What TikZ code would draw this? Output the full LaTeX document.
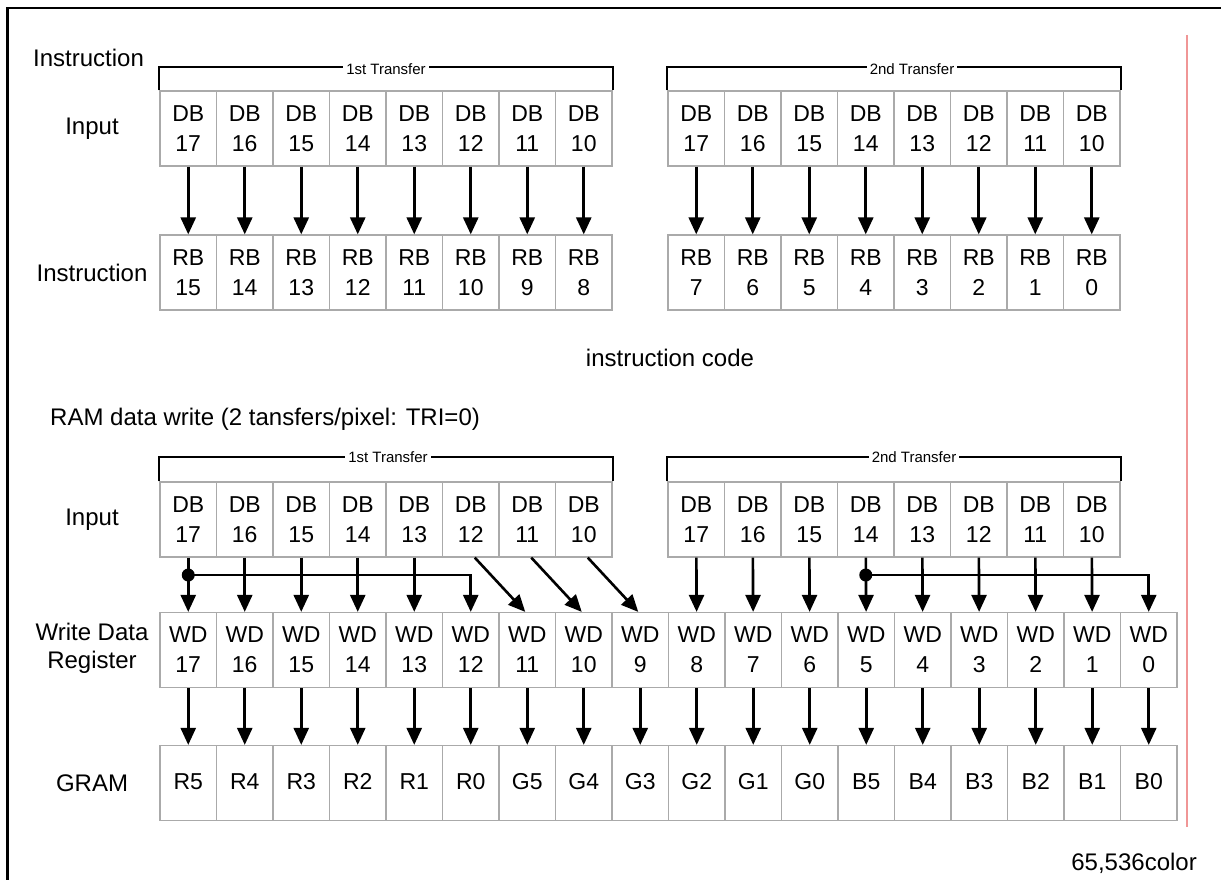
\documentclass[tikz,border=0pt]{standalone}
\usepackage{fontspec}
\setmainfont{Liberation Sans}
\usetikzlibrary{arrows.meta}

\definecolor{cellgray}{RGB}{170,170,170}
\definecolor{edgered}{RGB}{240,150,150}

\tikzset{
  cell/.style={draw=cellgray,line width=1.2pt,minimum width=56.5pt,minimum height=75pt,
    inner sep=0pt,align=center,font=\fontsize{23}{30}\selectfont},
  lbl/.style={inner sep=0pt,align=center,font=\fontsize{24}{28}\selectfont},
  tlbl/.style={fill=white,inner sep=3pt,font=\fontsize{15}{16}\selectfont},
  arr/.style={line width=2.6pt,-{Triangle[length=17pt,width=15pt]}},
  brk/.style={line width=2pt},
  jdot/.style={circle,fill,inner sep=0pt,minimum size=13pt},
}

\begin{document}
\begin{tikzpicture}[x=1pt,y=-1pt]
\useasboundingbox (0,0) rectangle (1221,880);
% frame
\draw[line width=2.5pt] (7.5,880) -- (7.5,8) -- (1221,8);
\draw[edgered,line width=1.5pt] (1187,35) -- (1187,827);

% instruction
\node[lbl,anchor=west] (head1) at (33,58) {Instruction};
\node[lbl] (inp1) at (92,128.5) {Input};
\node[lbl] (ins1) at (92,272.5) {Instruction};
\foreach \i in {0,...,7} {
  \pgfmathtruncatemacro{\hi}{17-\i}
  \pgfmathtruncatemacro{\ra}{15-\i}
  \pgfmathtruncatemacro{\rb}{7-\i}
  \node[cell] (a\i) at (188.25+56.5*\i,128.5) {DB\\\hi};
  \node[cell] (r\i) at (188.25+56.5*\i,272.5) {RB\\\ra};
  \node[cell] (e\i) at (696.25+56.5*\i,128.5) {DB\\\hi};
  \node[cell] (s\i) at (696.25+56.5*\i,272.5) {RB\\\rb};
  \draw[arr] (a\i) -- (r\i);
  \draw[arr] (e\i) -- (s\i);
}
\draw[brk] (a0.north west) -- ++(0,-23) -| (a7.north east);
\draw[brk] (e0.north west) -- ++(0,-23) -| (e7.north east);
\node[tlbl] (tr1) at (386,69) {1st Transfer};
\node[tlbl] (tr2) at (912,69) {2nd Transfer};
\node[lbl] (code) at (670,358) {instruction code};

% RAM data write
\node[lbl,anchor=west] (head2) at (50,419) {RAM data write (2 tansfers/pixel: TRI=0)};
\node[lbl] (inp2) at (92,519.5) {Input};
\node[lbl] (wdr) at (92,648) {Write Data\\Register};
\node[lbl] (gram) at (92,783) {GRAM};
\foreach \i in {0,...,7} {
  \pgfmathtruncatemacro{\hi}{17-\i}
  \node[cell] (b\i) at (188.25+56.5*\i,519.5) {DB\\\hi};
  \node[cell] (c\i) at (696.25+56.5*\i,519.5) {DB\\\hi};
}
\foreach \g [count=\j from 0] in {R5,R4,R3,R2,R1,R0,G5,G4,G3,G2,G1,G0,B5,B4,B3,B2,B1,B0} {
  \pgfmathtruncatemacro{\wdn}{17-\j}
  \node[cell] (w\j) at (188.25+56.5*\j,650) {WD\\\wdn};
  \node[cell] (g\j) at (188.25+56.5*\j,783) {\strut\g};
  \draw[arr] (w\j) -- (g\j);
}
\draw[brk] (b0.north west) -- ++(0,-24) -| (b7.north east);
\draw[brk] (c0.north west) -- ++(0,-24) -| (c7.north east);
\node[tlbl] (tr3) at (388,457) {1st Transfer};
\node[tlbl] (tr4) at (914,457) {2nd Transfer};

\foreach \i in {0,...,4} \draw[arr] (b\i) -- (w\i);
\foreach \i [evaluate=\i as \k using int(\i+1)] in {5,6,7}
  \draw[arr] ([xshift=4pt]b\i.south) -- ([xshift=-2pt]w\k.north);
\foreach \i [evaluate=\i as \k using int(\i+9)] in {0,...,7}
  \draw[arr] (c\i) -- (w\k);
\node[jdot] (j1) at (b0.south |- 0,575) {};
\node[jdot] (j2) at (c3.south |- 0,575) {};
\draw[arr] (j1.center) -| (w5.north);
\draw[arr] (j2.center) -| (w17.north);

\node[lbl,anchor=east] (ncol) at (1197,863) {65,536color};
\end{tikzpicture}
\end{document}
